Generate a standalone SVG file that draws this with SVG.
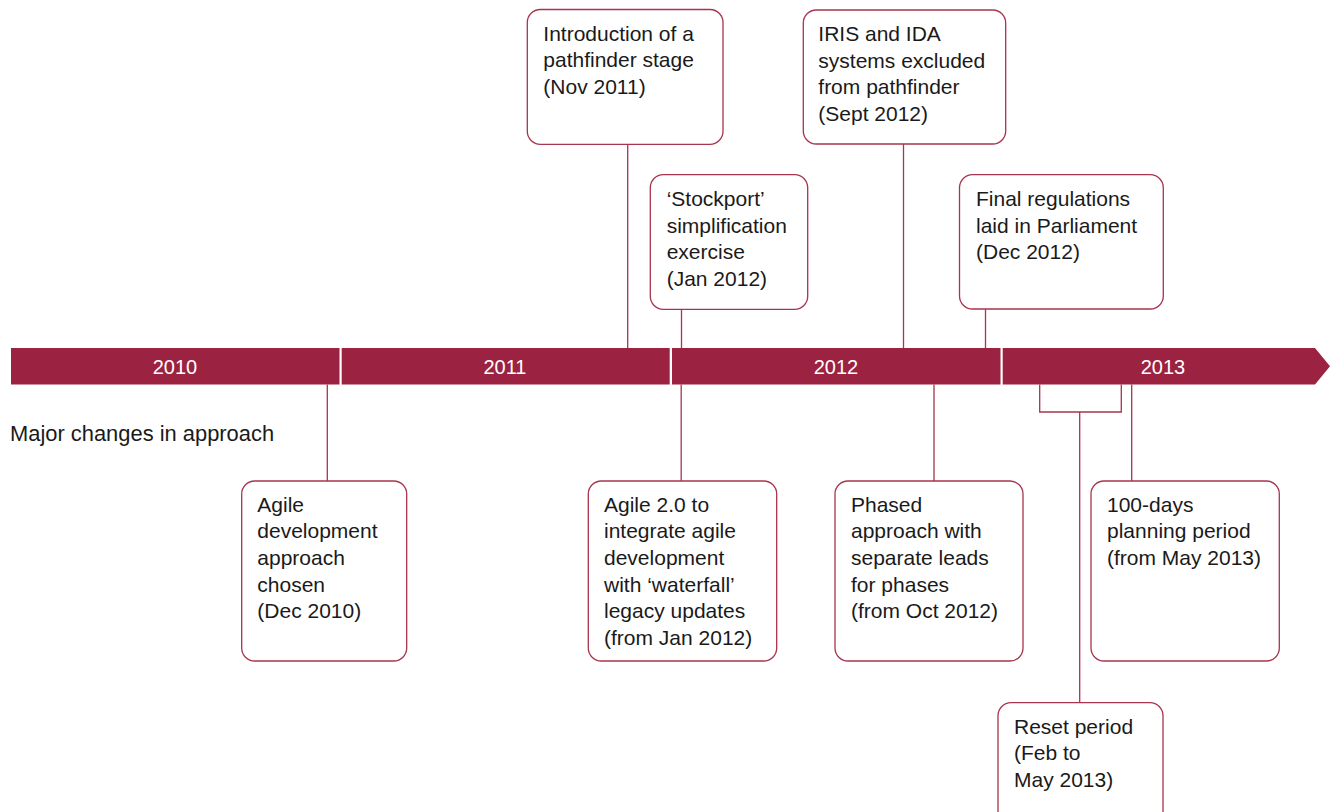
<svg xmlns="http://www.w3.org/2000/svg" width="1330" height="812" viewBox="0 0 1330 812">
<style>
.bar{fill:#9b2240}
.yr{font-family:"Liberation Sans",Arial,sans-serif;font-size:20px;fill:#ffffff;text-anchor:middle}
.box{fill:#ffffff;stroke:#a8344f;stroke-width:1.3}
.t{font-family:"Liberation Sans",Arial,sans-serif;font-size:21px;fill:#1a1a1a}
.lb{font-family:"Liberation Sans",Arial,sans-serif;font-size:21.9px;fill:#1a1a1a}
.ln{fill:none;stroke:#a8344f;stroke-width:1.3}
</style>
<rect width="1330" height="812" fill="#ffffff"/>
<g id="timeline">
<rect class="bar" x="11" y="348" width="328.5" height="36.5"/>
<rect class="bar" x="341.7" y="348" width="328" height="36.5"/>
<rect class="bar" x="672" y="348" width="328.5" height="36.5"/>
<polygon class="bar" points="1002.7,348 1315,348 1330,366.3 1315,384.5 1002.7,384.5"/>
<text class="yr" x="175" y="373.5">2010</text>
<text class="yr" x="505" y="373.5">2011</text>
<text class="yr" x="836" y="373.5">2012</text>
<text class="yr" x="1163" y="373.5">2013</text>
</g>
<g id="label">
<text class="lb" x="10" y="441">Major changes in approach</text>
</g>
<g id="connectors">
<line class="ln" x1="627.7" y1="144.3" x2="627.7" y2="348"/>
<line class="ln" x1="903.5" y1="144" x2="903.5" y2="348"/>
<line class="ln" x1="681.5" y1="309.3" x2="681.5" y2="348"/>
<line class="ln" x1="985.5" y1="309" x2="985.5" y2="348"/>
<line class="ln" x1="327.3" y1="384.5" x2="327.3" y2="481"/>
<line class="ln" x1="681.2" y1="384.5" x2="681.2" y2="481"/>
<line class="ln" x1="934" y1="384.5" x2="934" y2="481"/>
<line class="ln" x1="1131.7" y1="384.5" x2="1131.7" y2="481"/>
<polyline class="ln" points="1039.7,384.5 1039.7,412 1121.3,412 1121.3,384.5"/>
<line class="ln" x1="1079.7" y1="412" x2="1079.7" y2="702.7"/>
</g>
<g id="n-pathfinder">
<rect class="box" x="527.3" y="9.5" width="195.7" height="134.8" rx="13"/>
<text class="t" x="543.3" y="40.7">Introduction of a<tspan x="543.3" dy="26.7">pathfinder stage</tspan><tspan x="543.3" dy="26.7">(Nov 2011)</tspan></text>
</g>
<g id="n-iris">
<rect class="box" x="803.3" y="10" width="202.4" height="134" rx="13"/>
<text class="t" x="818.3" y="41">IRIS and IDA<tspan x="818.3" dy="26.7">systems excluded</tspan><tspan x="818.3" dy="26.7">from pathfinder</tspan><tspan x="818.3" dy="26.7">(Sept 2012)</tspan></text>
</g>
<g id="n-stockport">
<rect class="box" x="650.3" y="174.7" width="157.4" height="134.6" rx="13"/>
<text class="t" x="666.7" y="206">‘Stockport’<tspan x="666.7" dy="26.7">simplification</tspan><tspan x="666.7" dy="26.7">exercise</tspan><tspan x="666.7" dy="26.7">(Jan 2012)</tspan></text>
</g>
<g id="n-final">
<rect class="box" x="959.5" y="174.7" width="203.8" height="134.3" rx="13"/>
<text class="t" x="976" y="206">Final regulations<tspan x="976" dy="26.7">laid in Parliament</tspan><tspan x="976" dy="26.7">(Dec 2012)</tspan></text>
</g>
<g id="n-agile">
<rect class="box" x="241.7" y="481" width="165" height="180" rx="13"/>
<text class="t" x="257.3" y="511.8">Agile<tspan x="257.3" dy="26.6">development</tspan><tspan x="257.3" dy="26.6">approach</tspan><tspan x="257.3" dy="26.6">chosen</tspan><tspan x="257.3" dy="26.6">(Dec 2010)</tspan></text>
</g>
<g id="n-agile2">
<rect class="box" x="588.3" y="481" width="188.4" height="180" rx="13"/>
<text class="t" x="604" y="511.8">Agile 2.0 to<tspan x="604" dy="26.6">integrate agile</tspan><tspan x="604" dy="26.6">development</tspan><tspan x="604" dy="26.6">with ‘waterfall’</tspan><tspan x="604" dy="26.6">legacy updates</tspan><tspan x="604" dy="26.6">(from Jan 2012)</tspan></text>
</g>
<g id="n-phased">
<rect class="box" x="835" y="481" width="188" height="180" rx="13"/>
<text class="t" x="851" y="511.8">Phased<tspan x="851" dy="26.6">approach with</tspan><tspan x="851" dy="26.6">separate leads</tspan><tspan x="851" dy="26.6">for phases</tspan><tspan x="851" dy="26.6">(from Oct 2012)</tspan></text>
</g>
<g id="n-100days">
<rect class="box" x="1091" y="481" width="188.3" height="180" rx="13"/>
<text class="t" x="1107" y="511.8">100-days<tspan x="1107" dy="26.6">planning period</tspan><tspan x="1107" dy="26.6">(from May 2013)</tspan></text>
</g>
<g id="n-reset">
<rect class="box" x="998" y="702.7" width="165" height="140" rx="13"/>
<text class="t" x="1014" y="733.5">Reset period<tspan x="1014" dy="26.6">(Feb to</tspan><tspan x="1014" dy="26.6">May 2013)</tspan></text>
</g>
</svg>
